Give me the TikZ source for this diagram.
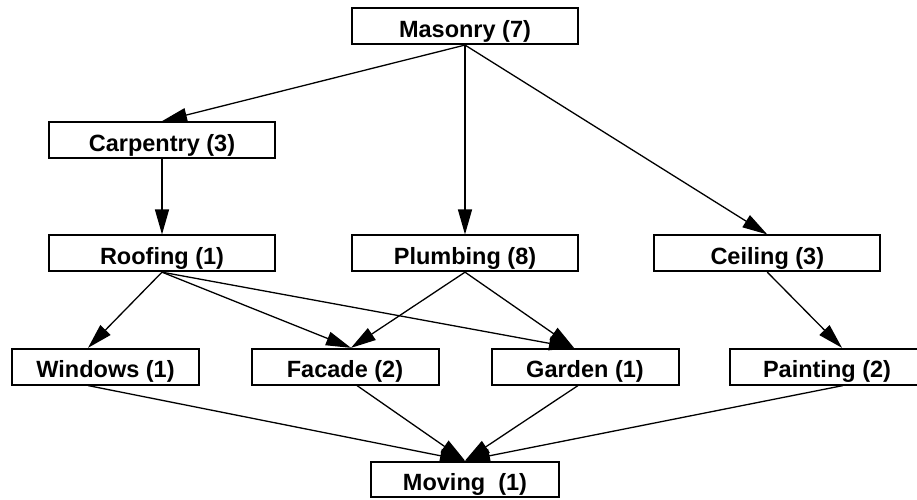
\documentclass[tikz,border=0pt]{standalone}
\usepackage{fontspec}
\setmainfont{Liberation Sans}
\usetikzlibrary{arrows.meta}
\begin{document}
\begin{tikzpicture}[x=1pt,y=-1pt,
  task/.style={draw, line width=2pt, rectangle, inner sep=0pt,
    minimum height=35.7pt, text height=22pt, text depth=0pt,
    font=\fontsize{23.5}{28}\selectfont\bfseries},
  wide/.style={task, minimum width=226pt},
  narrow/.style={task, minimum width=187pt},
  link/.style={line width=1.3pt, -{Triangle[length=25pt,width=14pt]}}]
\fill[white] (0,0) rectangle (917,499);
\useasboundingbox (0,0) rectangle (917,499);

% task boxes
\node[wide] (masonry)   at (465,26.2)  {Masonry (7)};
\node[wide] (carpentry) at (162,140)   {Carpentry (3)};
\node[wide] (roofing)   at (162,253.3) {Roofing (1)};
\node[wide] (plumbing)  at (465,253.3) {Plumbing (8)};
\node[wide] (ceiling)   at (767.3,253.3) {Ceiling (3)};
\node[narrow] (windows)  at (105.5,366.7) {Windows (1)};
\node[narrow] (facade)   at (345,366.7)   {Facade (2)};
\node[narrow] (garden)   at (585,366.7)   {Garden (1)};
\node[narrow, minimum width=194pt] (painting) at (827,366.7) {Painting (2)};
\node[narrow, minimum width=188pt] (moving) at (465,479.5) {Moving~~(1)};

% dependencies
\draw[link] (masonry.south) -- (carpentry.north);
\draw[link] (masonry.south) -- (plumbing.north);
\draw[link] (masonry.south) -- (ceiling.north);
\draw[link] (carpentry.south) -- (roofing.north);
\draw[link] (roofing.south) -- ([xshift=-17.5pt]windows.north);
\draw[link] (roofing.south) -- ([xshift=6pt]facade.north);
\draw[link] (roofing.south) -- ([xshift=-11pt]garden.north);
\draw[link] (plumbing.south) -- ([xshift=6pt]facade.north);
\draw[link] (plumbing.south) -- ([xshift=-11pt]garden.north);
\draw[link] (ceiling.south) -- ([xshift=15pt]painting.north);
\draw[link] ([xshift=-17.5pt]windows.south) -- (moving.north);
\draw[link] ([xshift=12pt]facade.south) -- (moving.north);
\draw[link] ([xshift=-7pt]garden.south) -- (moving.north);
\draw[link] ([xshift=16pt]painting.south) -- (moving.north);
\end{tikzpicture}
\end{document}
